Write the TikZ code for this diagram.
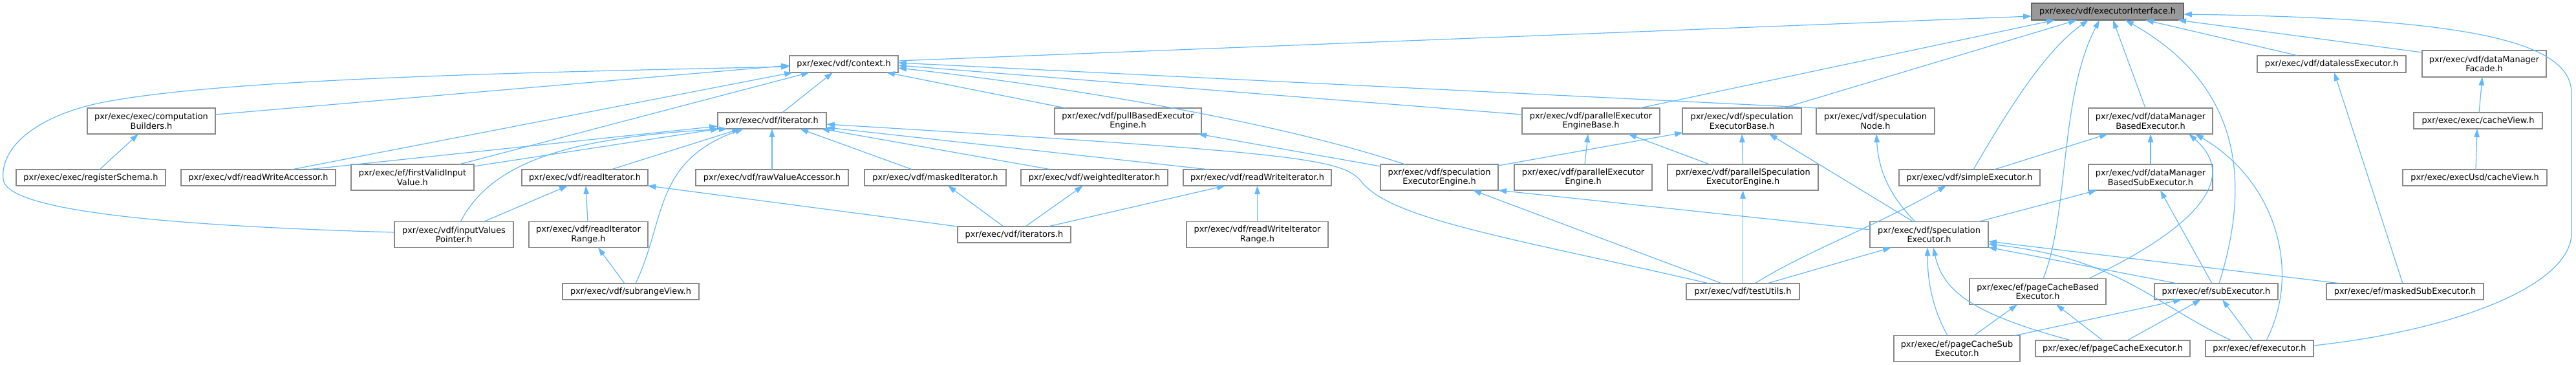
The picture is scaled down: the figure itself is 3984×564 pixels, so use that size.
\documentclass[tikz,border=0pt]{standalone}
\usepackage{fontspec}
\newfontfamily\dvs{DejaVu Sans}
\usetikzlibrary{arrows.meta}
\definecolor{edgeblue}{HTML}{63B8FF}
\definecolor{boxgray}{HTML}{888888}
\definecolor{rootfill}{HTML}{999999}
\definecolor{rootline}{HTML}{666666}
\begin{document}
\begin{tikzpicture}[x=1pt,y=-1pt,
  box/.style={draw=boxgray, fill=white, line width=1.2pt, inner sep=0pt, align=center,
    font=\dvs\fontsize{12.9pt}{14.5pt}\selectfont, text=black},
  rootbox/.style={box, draw=rootline, fill=rootfill},
  sz/.style 2 args={minimum width=#1pt, minimum height=#2pt},
  edge/.style={draw=edgeblue, line width=1.2pt, -{Triangle[length=13pt,width=8.5pt]}}]
\useasboundingbox[fill=white] (0,0) rectangle (3984,564);

% row 0
\node[rootbox, sz={235}{26}] (ei) at (3259.5,18) {pxr/exec/vdf/executorInterface.h};
% row 1
\node[box, sz={168}{26}] (ctx) at (1305,99) {pxr/exec/vdf/context.h};
\node[box, sz={230}{26}] (dle) at (3606,99) {pxr/exec/vdf/datalessExecutor.h};
\node[box, sz={192}{41}] (dmf) at (3842,98.5) {pxr/exec/vdf/dataManager\\Facade.h};
% row 2
\node[box, sz={198}{40}] (cb) at (234,187) {pxr/exec/exec/computation\\Builders.h};
\node[box, sz={168}{25}] (it) at (1194,186.5) {pxr/exec/vdf/iterator.h};
\node[box, sz={227}{40}] (pbe) at (1744.5,187) {pxr/exec/vdf/pullBasedExecutor\\Engine.h};
\node[box, sz={213}{40}] (peeb) at (2460.5,187) {pxr/exec/vdf/parallelExecutor\\EngineBase.h};
\node[box, sz={184}{40}] (seb) at (2694,187) {pxr/exec/vdf/speculation\\ExecutorBase.h};
\node[box, sz={183}{40}] (sn) at (2900.5,187) {pxr/exec/vdf/speculation\\Node.h};
\node[box, sz={192}{40}] (dmbe) at (3326,187) {pxr/exec/vdf/dataManager\\BasedExecutor.h};
\node[box, sz={199}{25}] (cv) at (3832.5,186.5) {pxr/exec/exec/cacheView.h};
% row 3
\node[box, sz={231}{25}] (rs) at (140.5,274.5) {pxr/exec/exec/registerSchema.h};
\node[box, sz={239}{25}] (rwa) at (399.5,274.5) {pxr/exec/vdf/readWriteAccessor.h};
\node[box, sz={190}{40}] (fvi) at (638,274) {pxr/exec/ef/firstValidInput\\Value.h};
\node[box, sz={195}{25}] (ri) at (904.5,274.5) {pxr/exec/vdf/readIterator.h};
\node[box, sz={236}{25}] (rva) at (1194,274.5) {pxr/exec/vdf/rawValueAccessor.h};
\node[box, sz={219}{25}] (mi) at (1446.5,274.5) {pxr/exec/vdf/maskedIterator.h};
\node[box, sz={227}{25}] (wi) at (1692.5,274.5) {pxr/exec/vdf/weightedIterator.h};
\node[box, sz={229}{25}] (rwi) at (1944.5,274.5) {pxr/exec/vdf/readWriteIterator.h};
\node[box, sz={182}{40}] (see) at (2226,274) {pxr/exec/vdf/speculation\\ExecutorEngine.h};
\node[box, sz={213}{40}] (pee) at (2448.5,274) {pxr/exec/vdf/parallelExecutor\\Engine.h};
\node[box, sz={233}{40}] (psee) at (2695.5,274) {pxr/exec/vdf/parallelSpeculation\\ExecutorEngine.h};
\node[box, sz={218}{25}] (se) at (3046,274.5) {pxr/exec/vdf/simpleExecutor.h};
\node[box, sz={192}{40}] (dmbse) at (3326,274) {pxr/exec/vdf/dataManager\\BasedSubExecutor.h};
\node[box, sz={223}{25}] (ucv) at (3827.5,274.5) {pxr/exec/execUsd/cacheView.h};
% row 4
\node[box, sz={184}{40}] (ivp) at (702,362.5) {pxr/exec/vdf/inputValues\\Pointer.h};
\node[box, sz={184}{40}] (rir) at (910,362.5) {pxr/exec/vdf/readIterator\\Range.h};
\node[box, sz={175}{25}] (its) at (1568.5,362.5) {pxr/exec/vdf/iterators.h};
\node[box, sz={219}{40}] (rwir) at (1944.5,362.5) {pxr/exec/vdf/readWriteIterator\\Range.h};
\node[box, sz={183}{40}] (spe) at (2983.5,362.5) {pxr/exec/vdf/speculation\\Executor.h};
% row 5
\node[box, sz={211}{25}] (srv) at (975.5,450.5) {pxr/exec/vdf/subrangeView.h};
\node[box, sz={175}{25}] (tu) at (2695.5,450.5) {pxr/exec/vdf/testUtils.h};
\node[box, sz={211}{40}] (pcbe) at (3151.5,450.5) {pxr/exec/ef/pageCacheBased\\Executor.h};
\node[box, sz={191}{25}] (sub) at (3427.5,450.5) {pxr/exec/ef/subExecutor.h};
\node[box, sz={243}{25}] (mse) at (3719.5,450.5) {pxr/exec/ef/maskedSubExecutor.h};
% row 6
\node[box, sz={195}{40}] (pcse) at (3026.5,538.5) {pxr/exec/ef/pageCacheSub\\Executor.h};
\node[box, sz={239}{25}] (pce) at (3267.5,538.5) {pxr/exec/ef/pageCacheExecutor.h};
\node[box, sz={167}{25}] (exe) at (3494.5,538.5) {pxr/exec/ef/executor.h};

% edges into executorInterface
\draw[edge] ([shift={(84,-5)}]ctx.center) -- ([shift={(-117.5,7)}]ei.center);
\draw[edge] ([shift={(75.5,-20)}]peeb.center) -- ([shift={(-81.5,13)}]ei.center);
\draw[edge] ([shift={(64,-20)}]seb.center) -- ([shift={(-47.5,13)}]ei.center);
\draw[edge] ([shift={(6,-12.5)}]se.center) .. controls (3100,180) and (3160,80) .. ([shift={(-29.5,13)}]ei.center);
\draw[edge] ([shift={(8.5,-20)}]pcbe.center) .. controls (3200,330) and (3185,150) .. ([shift={(-12.5,13)}]ei.center);
\draw[edge] ([shift={(-8,-20)}]dmbe.center) -- ([shift={(8.5,13)}]ei.center);
\draw[edge] ([shift={(4.5,-12.5)}]sub.center) .. controls (3475,300) and (3480,140) .. ([shift={(27.5,13)}]ei.center);
\draw[edge] ([shift={(-52,-13)}]dle.center) -- ([shift={(58.5,13)}]ei.center);
\draw[edge] ([shift={(-96,-17.5)}]dmf.center) -- ([shift={(108.5,13)}]ei.center);
\draw[edge] ([shift={(83.5,-4.5)}]exe.center) .. controls (3800,510) and (3977,440) .. (3977,360) -- (3977,144) .. controls (3977,60) and (3800,28) .. ([shift={(117.5,4)}]ei.center);

% edges into context
\draw[edge] ([shift={(-88.5,-20)}]sn.center) -- ([shift={(84,-2)}]ctx.center);
\draw[edge] ([shift={(-106.5,-10)}]peeb.center) -- ([shift={(84,2)}]ctx.center);
\draw[edge] ([shift={(-53,-20)}]see.center) .. controls (1950,180) and (1600,128) .. ([shift={(84,6)}]ctx.center);
\draw[edge] ([shift={(-96.5,-20)}]pbe.center) -- ([shift={(66,13)}]ctx.center);
\draw[edge] ([shift={(-92,-3.5)}]ivp.center) .. controls (300,350) and (10,330) .. (5,277) .. controls (0,225) and (60,180) .. (150,160) .. controls (330,122) and (800,112) .. ([shift={(-84,4)}]ctx.center);
\draw[edge] ([shift={(99,-10)}]cb.center) -- ([shift={(-84,2)}]ctx.center);
\draw[edge] ([shift={(51.5,-12.5)}]rwa.center) -- ([shift={(-79,13)}]ctx.center);
\draw[edge] ([shift={(72,-20)}]fvi.center) -- ([shift={(-53,13)}]ctx.center);
\draw[edge] ([shift={(16,-12.5)}]it.center) -- ([shift={(-17,13)}]ctx.center);

% edges into iterator
\draw[edge] ([shift={(75.5,-12.5)}]rwa.center) -- ([shift={(-84,8.5)}]it.center);
\draw[edge] ([shift={(95,-17)}]fvi.center) -- ([shift={(-82,12.5)}]it.center);
\draw[edge] ([shift={(10,-19.5)}]ivp.center) .. controls (760,250) and (880,212) .. ([shift={(-69,12.5)}]it.center);
\draw[edge] ([shift={(40.5,-12.5)}]ri.center) -- ([shift={(-49,12.5)}]it.center);
\draw[edge] ([shift={(7.5,-12.5)}]srv.center) .. controls (1030,340) and (1010,250) .. ([shift={(-44,12.5)}]it.center);
\draw[edge] ([shift={(0,-12.5)}]rva.center) -- ([shift={(0,12.5)}]it.center);
\draw[edge] ([shift={(-35.5,-12.5)}]mi.center) -- ([shift={(43,12.5)}]it.center);
\draw[edge] ([shift={(-66.5,-12.5)}]wi.center) -- ([shift={(76,12.5)}]it.center);
\draw[edge] ([shift={(-74.5,-12.5)}]rwi.center) -- ([shift={(84,10.5)}]it.center);
\draw[edge] ([shift={(-52.5,-12.5)}]tu.center) .. controls (2350,370) and (2150,340) .. (2105,280) .. controls (2075,245) and (2010,236) .. ([shift={(84,5.5)}]it.center);

% readIterator family
\draw[edge] ([shift={(45,-19.5)}]ivp.center) -- ([shift={(-26.5,12.5)}]ri.center);
\draw[edge] ([shift={(-1,-19.5)}]rir.center) -- ([shift={(1.5,12.5)}]ri.center);
\draw[edge] ([shift={(-87.5,-12.5)}]its.center) -- ([shift={(97,12.5)}]ri.center);
\draw[edge] ([shift={(-9.5,-12.5)}]srv.center) -- ([shift={(15,20)}]rir.center);
\draw[edge] ([shift={(13.5,-12.5)}]rs.center) -- ([shift={(-20,20)}]cb.center);
\draw[edge] ([shift={(-16.5,-12.5)}]its.center) -- ([shift={(19.5,12.5)}]mi.center);
\draw[edge] ([shift={(17.5,-12.5)}]its.center) -- ([shift={(-17.5,12.5)}]wi.center);
\draw[edge] ([shift={(52.5,-12.5)}]its.center) -- ([shift={(-49.5,12.5)}]rwi.center);
\draw[edge] ([shift={(0,-20)}]rwir.center) -- ([shift={(0,12.5)}]rwi.center);

% engines
\draw[edge] ([shift={(-91,-17)}]see.center) -- ([shift={(108.5,20)}]pbe.center);
\draw[edge] ([shift={(2.5,-20)}]pee.center) -- ([shift={(-4.5,20)}]peeb.center);
\draw[edge] ([shift={(-51.5,-20)}]psee.center) -- ([shift={(57.5,20)}]peeb.center);
\draw[edge] ([shift={(91,-18)}]see.center) -- ([shift={(-91,18)}]seb.center);
\draw[edge] ([shift={(0,-20)}]psee.center) -- ([shift={(0,20)}]seb.center);
\draw[edge] ([shift={(-24.5,-20)}]spe.center) -- ([shift={(42,20)}]seb.center);
\draw[edge] ([shift={(-21.5,-20)}]spe.center) .. controls (2920,300) and (2905,260) .. ([shift={(1.5,20)}]sn.center);
\draw[edge] ([shift={(-91.5,-7.5)}]spe.center) -- ([shift={(91,20)}]see.center);

% testUtils
\draw[edge] ([shift={(-32.5,-12.5)}]tu.center) -- ([shift={(52,20)}]see.center);
\draw[edge] ([shift={(0,-12.5)}]tu.center) -- ([shift={(0,20)}]psee.center);
\draw[edge] ([shift={(18.5,-12.5)}]tu.center) .. controls (2790,390) and (2900,350) .. ([shift={(-36,12.5)}]se.center);
\draw[edge] ([shift={(37.5,-12.5)}]tu.center) -- ([shift={(-58.5,20)}]spe.center);

% executors
\draw[edge] ([shift={(38,-12.5)}]se.center) -- ([shift={(-66,20)}]dmbe.center);
\draw[edge] ([shift={(76.5,-20)}]spe.center) -- ([shift={(-83,20)}]dmbse.center);
\draw[edge] ([shift={(-14.5,-20)}]pcse.center) .. controls (2985,470) and (2981,425) .. ([shift={(-2.5,20)}]spe.center);
\draw[edge] ([shift={(-64.5,-12.5)}]pce.center) .. controls (3050,485) and (3005,450) .. ([shift={(6.5,20)}]spe.center);
\draw[edge] ([shift={(-99.5,-12.5)}]mse.center) -- ([shift={(91.5,10.5)}]spe.center);
\draw[edge] ([shift={(-60.5,-12.5)}]sub.center) -- ([shift={(91.5,19.5)}]spe.center);
\draw[edge] ([shift={(-43.5,-12.5)}]exe.center) .. controls (3330,470) and (3280,400) .. ([shift={(91.5,14.5)}]spe.center);
\draw[edge] ([shift={(-3.5,-12.5)}]mse.center) -- ([shift={(4,13)}]dle.center);
\draw[edge] ([shift={(1.5,-12.5)}]cv.center) -- ([shift={(-3,20.5)}]dmf.center);
\draw[edge] ([shift={(1.5,-12.5)}]ucv.center) -- ([shift={(-1.5,12.5)}]cv.center);
\draw[edge] ([shift={(0,-20)}]dmbse.center) -- ([shift={(0,20)}]dmbe.center);
\draw[edge] ([shift={(-6.5,-12.5)}]sub.center) -- ([shift={(15,20)}]dmbse.center);
\draw[edge] ([shift={(78.5,-20)}]pcbe.center) .. controls (3380,360) and (3470,280) .. ([shift={(59,20)}]dmbe.center);
\draw[edge] ([shift={(10.5,-12.5)}]exe.center) .. controls (3560,420) and (3520,280) .. ([shift={(69,20)}]dmbe.center);
\draw[edge] ([shift={(26.5,-20)}]pcse.center) -- ([shift={(-31.5,20)}]pcbe.center);
\draw[edge] ([shift={(-15.5,-12.5)}]pce.center) -- ([shift={(28.5,20)}]pcbe.center);
\draw[edge] ([shift={(89.5,-20)}]pcse.center) -- ([shift={(-53.5,12.5)}]sub.center);
\draw[edge] ([shift={(22.5,-12.5)}]pce.center) -- ([shift={(-23.5,12.5)}]sub.center);
\draw[edge] ([shift={(-10.5,-12.5)}]exe.center) -- ([shift={(9.5,12.5)}]sub.center);
\end{tikzpicture}
\end{document}
